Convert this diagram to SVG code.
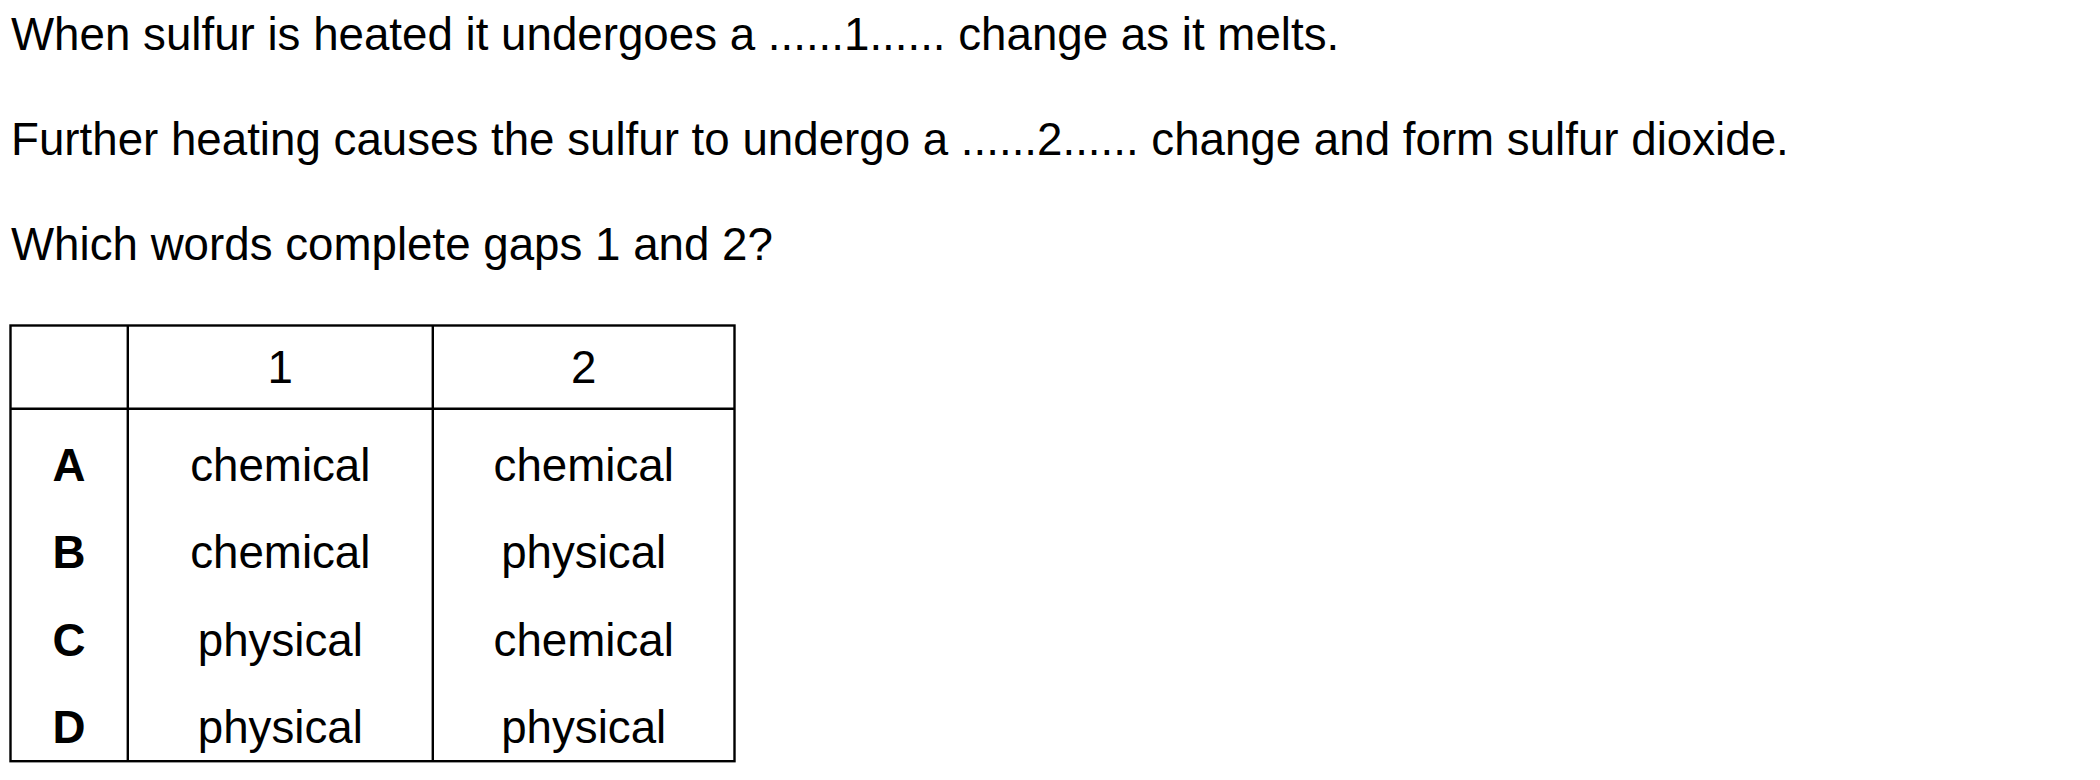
<svg xmlns="http://www.w3.org/2000/svg" width="2100" height="780" viewBox="0 0 2100 780">
<style>
text{font-family:"Liberation Sans",Arial,sans-serif;font-size:45.7px;fill:#000}
.c{text-anchor:middle}
.b{font-weight:bold}
.ln{stroke:#000;stroke-width:2.4;fill:none}
</style>
<rect width="2100" height="780" fill="#fff"/>
<g id="question">
<text x="11" y="50">When sulfur is heated it undergoes a ......1...... change as it melts.</text>
<text x="11" y="155">Further heating causes the sulfur to undergo a ......2...... change and form sulfur dioxide.</text>
<text x="11" y="260">Which words complete gaps 1 and 2?</text>
</g>
<g id="table">
<rect class="ln" x="10.5" y="325.5" width="724" height="435.7"/>
<line class="ln" x1="10.5" y1="408.8" x2="734.5" y2="408.8"/>
<line class="ln" x1="127.8" y1="325.5" x2="127.8" y2="761.2"/>
<line class="ln" x1="432.8" y1="325.5" x2="432.8" y2="761.2"/>
<text class="c" x="280.3" y="383">1</text>
<text class="c" x="583.7" y="383">2</text>
<text class="c b" x="69" y="481">A</text>
<text class="c" x="280.3" y="481">chemical</text>
<text class="c" x="583.7" y="481">chemical</text>
<text class="c b" x="69" y="568">B</text>
<text class="c" x="280.3" y="568">chemical</text>
<text class="c" x="583.7" y="568">physical</text>
<text class="c b" x="69" y="655.5">C</text>
<text class="c" x="280.3" y="655.5">physical</text>
<text class="c" x="583.7" y="655.5">chemical</text>
<text class="c b" x="69" y="743">D</text>
<text class="c" x="280.3" y="743">physical</text>
<text class="c" x="583.7" y="743">physical</text>
</g>
</svg>
